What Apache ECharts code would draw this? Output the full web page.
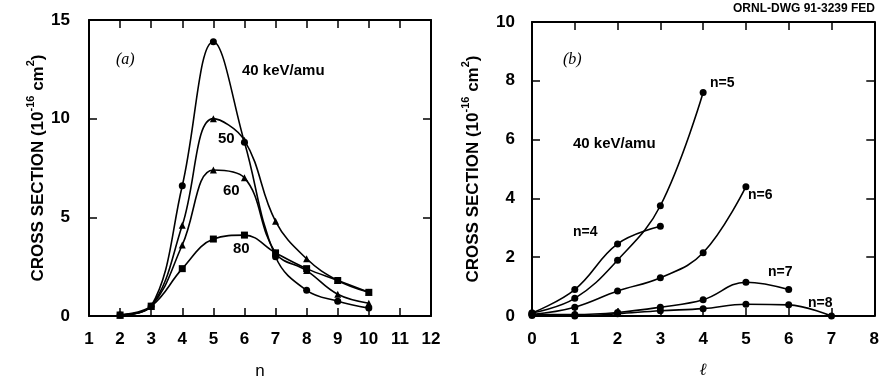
<!DOCTYPE html>
<html>
<head>
<meta charset="utf-8">
<script src="https://cdn.jsdelivr.net/npm/echarts@6/dist/echarts.min.js"></script>
<style>html,body{margin:0;padding:0;background:#fff;}#c{width:882px;height:385px;}</style>
</head>
<body>
<div id="c"></div>
<script>
// ---- Data: panel (a) cross section vs n ----
const nValues = [2, 3, 4, 5, 6, 7, 8, 9, 10];
const kev40 = [0.05, 0.5, 6.6, 13.9, 8.8, 3.0, 1.3, 0.75, 0.4];
const kev50 = [0.05, 0.5, 4.6, 10.0, 8.9, 4.8, 2.9, 1.8, 1.2];
const kev60 = [0.05, 0.5, 3.6, 7.4, 7.0, 3.2, 2.3, 1.1, 0.65];
const kev80 = [0.05, 0.5, 2.4, 3.9, 4.1, 3.2, 2.4, 1.8, 1.2];
const nTicks = [1, 2, 3, 4, 5, 6, 7, 8, 9, 10, 11, 12];
const leftYTicks = [0, 5, 10, 15];

// ---- Data: panel (b) cross section vs l at 40 keV/amu ----
const ellValues = [0, 1, 2, 3, 4, 5, 6, 7];
const n4 = [0.1, 0.9, 2.45, 3.05];
const n5 = [0.1, 0.6, 1.9, 3.75, 7.6];
const n6 = [0.05, 0.3, 0.85, 1.3, 2.15, 4.4];
const n7 = [0.05, 0.05, 0.12, 0.3, 0.55, 1.15, 0.9];
const n8 = [0.02, 0.0, 0.08, 0.18, 0.25, 0.4, 0.38, 0.0];
const ellTicks = [0, 1, 2, 3, 4, 5, 6, 7, 8];
const rightYTicks = [0, 2, 4, 6, 8, 10];

const FONT = 'Liberation Sans';
const pairs = (xs, ys) => ys.map((v, i) => [xs[i], v]);

const lineW = 2;
function axisBase(extra) {
  return Object.assign({
    type: 'value',
    axisLine: { show: true, onZero: false, lineStyle: { color: '#000', width: lineW } },
    axisTick: { show: true, inside: true, length: 8, lineStyle: { color: '#000', width: 1.5 } },
    splitLine: { show: false },
    axisLabel: { color: '#000', fontSize: 17, fontWeight: 'bold', fontFamily: FONT }
  }, extra);
}
const hidden = { show: false };
const yName = '{b|CROSS SECTION (10}{s|-16}{b| cm}{s|2}{b|)}';
const yNameStyle = {
  color: '#000',
  rich: {
    b: { fontSize: 17, fontWeight: 'bold', fontFamily: FONT, color: '#000', lineHeight: 22, verticalAlign: 'bottom' },
    s: { fontSize: 11, fontWeight: 'bold', fontFamily: FONT, color: '#000', lineHeight: 22, verticalAlign: 'top' }
  }
};

function lineSeries(xi, yi, data, symbol, size) {
  return {
    type: 'line', xAxisIndex: xi, yAxisIndex: yi, data: data,
    smooth: 0.4, symbol: symbol, symbolSize: size || 7,
    itemStyle: { color: '#000' },
    lineStyle: { color: '#000', width: 1.6 },
    z: 3
  };
}

const option = {
  animation: false,
  backgroundColor: '#fff',
  grid: [
    { left: 89, top: 20, width: 342, height: 297 },
    { left: 532, top: 22, width: 343, height: 294 }
  ],
  xAxis: [
    axisBase({ gridIndex: 0, position: 'bottom', min: nTicks[0], max: nTicks[nTicks.length - 1], interval: 1,
      axisLabel: { color: '#000', fontSize: 17, fontWeight: 'bold', fontFamily: FONT, margin: 15 },
      name: 'n', nameLocation: 'middle', nameGap: 47,
      nameTextStyle: { color: '#000', fontSize: 17, fontFamily: FONT } }),
    axisBase({ gridIndex: 0, position: 'top', min: nTicks[0], max: nTicks[nTicks.length - 1], interval: 1, axisLabel: hidden }),
    axisBase({ gridIndex: 1, position: 'bottom', min: ellTicks[0], max: ellTicks[ellTicks.length - 1], interval: 1,
      axisLabel: { color: '#000', fontSize: 17, fontWeight: 'bold', fontFamily: FONT, margin: 15 },
      name: 'ℓ', nameLocation: 'middle', nameGap: 46,
      nameTextStyle: { color: '#000', fontSize: 17, fontStyle: 'italic', fontFamily: 'DejaVu Serif' } }),
    axisBase({ gridIndex: 1, position: 'top', min: ellTicks[0], max: ellTicks[ellTicks.length - 1], interval: 1, axisLabel: hidden })
  ],
  yAxis: [
    axisBase({ gridIndex: 0, position: 'left', min: leftYTicks[0], max: leftYTicks[leftYTicks.length - 1], interval: 5,
      axisLabel: { color: '#000', fontSize: 17, fontWeight: 'bold', fontFamily: FONT, margin: 19 },
      name: yName, nameLocation: 'middle', nameGap: 42, nameTextStyle: yNameStyle }),
    axisBase({ gridIndex: 0, position: 'right', min: leftYTicks[0], max: leftYTicks[leftYTicks.length - 1], interval: 5, axisLabel: hidden }),
    axisBase({ gridIndex: 1, position: 'left', min: rightYTicks[0], max: rightYTicks[rightYTicks.length - 1], interval: 2,
      axisLabel: { color: '#000', fontSize: 17, fontWeight: 'bold', fontFamily: FONT, margin: 17 },
      name: yName, nameLocation: 'middle', nameGap: 50, nameTextStyle: yNameStyle }),
    axisBase({ gridIndex: 1, position: 'right', min: rightYTicks[0], max: rightYTicks[rightYTicks.length - 1], interval: 2, axisLabel: hidden })
  ],
  series: [
    lineSeries(0, 0, pairs(nValues, kev40), 'circle'),
    lineSeries(0, 0, pairs(nValues, kev50), 'triangle'),
    lineSeries(0, 0, pairs(nValues, kev60), 'triangle'),
    lineSeries(0, 0, pairs(nValues, kev80), 'rect'),
    lineSeries(2, 2, pairs(ellValues, n4), 'circle'),
    lineSeries(2, 2, pairs(ellValues, n5), 'circle'),
    lineSeries(2, 2, pairs(ellValues, n6), 'circle'),
    lineSeries(2, 2, pairs(ellValues, n7), 'circle'),
    lineSeries(2, 2, pairs(ellValues, n8), 'circle')
  ],
  graphic: [
    { type: 'text', left: 116, top: 52, style: { text: '(a)', font: 'italic 16px "Liberation Serif"', fill: '#000' } },
    { type: 'text', left: 242, top: 63, style: { text: '40 keV/amu', font: 'bold 15px "Liberation Sans"', fill: '#000' } },
    { type: 'text', left: 218, top: 131, style: { text: '50', font: 'bold 15px "Liberation Sans"', fill: '#000' } },
    { type: 'text', left: 223, top: 183, style: { text: '60', font: 'bold 15px "Liberation Sans"', fill: '#000' } },
    { type: 'text', left: 233, top: 241, style: { text: '80', font: 'bold 15px "Liberation Sans"', fill: '#000' } },
    { type: 'text', left: 563, top: 52, style: { text: '(b)', font: 'italic 16px "Liberation Serif"', fill: '#000' } },
    { type: 'text', left: 573, top: 136, style: { text: '40 keV/amu', font: 'bold 15px "Liberation Sans"', fill: '#000' } },
    { type: 'text', left: 710, top: 76, style: { text: 'n=5', font: 'bold 14px "Liberation Sans"', fill: '#000' } },
    { type: 'text', left: 748, top: 188, style: { text: 'n=6', font: 'bold 14px "Liberation Sans"', fill: '#000' } },
    { type: 'text', left: 573, top: 225, style: { text: 'n=4', font: 'bold 14px "Liberation Sans"', fill: '#000' } },
    { type: 'text', left: 768, top: 265, style: { text: 'n=7', font: 'bold 14px "Liberation Sans"', fill: '#000' } },
    { type: 'text', left: 808, top: 296, style: { text: 'n=8', font: 'bold 14px "Liberation Sans"', fill: '#000' } },
    { type: 'text', right: 7, top: 3, style: { text: 'ORNL-DWG 91-3239 FED', font: 'bold 12px "Liberation Sans"', fill: '#000' } }
  ]
};

const chart = echarts.init(document.getElementById('c'), null, { renderer: 'canvas' });
chart.setOption(option);
</script>
</body>
</html>
